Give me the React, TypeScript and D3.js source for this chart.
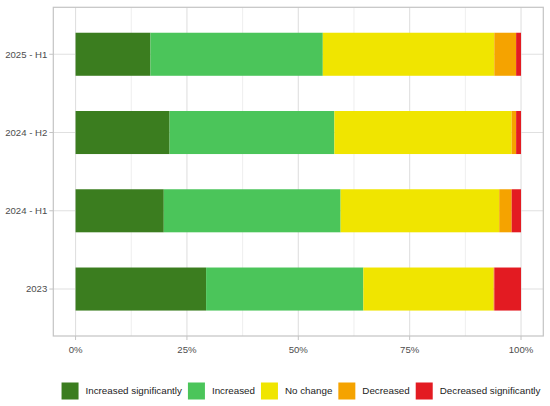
import * as d3 from "d3";

const categories = ["2025 - H1", "2024 - H2", "2024 - H1", "2023"];
const seriesNames = [
  "Increased significantly",
  "Increased",
  "No change",
  "Decreased",
  "Decreased significantly",
];
const seriesColors = ["#3b7d1f", "#4bc55a", "#f0e500", "#f5a300", "#e31b22"];

// shares per category, same order as categories
const increasedSig = [0.168, 0.211, 0.198, 0.293];
const increased = [0.387, 0.37, 0.397, 0.353];
const noChange = [0.385, 0.398, 0.356, 0.292];
const decreased = [0.049, 0.01, 0.028, 0.002];
const decreasedSig = [0.011, 0.011, 0.021, 0.06];

const xTicks = [0, 0.25, 0.5, 0.75, 1];
const xMinor = [0.125, 0.375, 0.625, 0.875];

const W = 550;
const H = 406;
const panel = { left: 53.3, right: 543.3, top: 7.3, bottom: 336 };
const FONT = "'Liberation Sans', Arial, sans-serif";

function textWidth(t: string, size: number) {
  const ctx = document.createElement("canvas").getContext("2d");
  if (!ctx) return t.length * size * 0.45;
  ctx.font = `${size}px 'Liberation Sans'`;
  return ctx.measureText(t).width;
}

export default function App() {
  const rows = categories.map((c, i) => ({
    cat: c,
    [seriesNames[0]]: increasedSig[i],
    [seriesNames[1]]: increased[i],
    [seriesNames[2]]: noChange[i],
    [seriesNames[3]]: decreased[i],
    [seriesNames[4]]: decreasedSig[i],
  }));

  const stacked = d3.stack<any>().keys(seriesNames)(rows);

  const x = d3
    .scaleLinear()
    .domain([-0.05, 1.05])
    .range([panel.left, panel.right]);

  const y = d3
    .scalePoint<string>()
    .domain(categories)
    .range([panel.top, panel.bottom])
    .padding(0.6);

  const barH = y.step() * 0.55;
  const color = d3.scaleOrdinal<string, string>().domain(seriesNames).range(seriesColors);

  // legend layout
  const legendSize = 9.8;
  const keyW = 17;
  const gapKeyText = 7;
  const gapItems = 6;
  const widths = seriesNames.map((s) => textWidth(s, legendSize));
  const total =
    widths.reduce((a, b) => a + b, 0) + seriesNames.length * (keyW + gapKeyText) + (seriesNames.length - 1) * gapItems;
  let lx = 301 - total / 2;
  const legendItems = seriesNames.map((s, i) => {
    const item = { name: s, x: lx };
    lx += keyW + gapKeyText + widths[i] + gapItems;
    return item;
  });
  const legendY = 391;

  return (
    <svg
      width={W}
      height={H}
      style={{ position: "absolute", left: 0, top: 0, background: "#fff" }}
      fontFamily={FONT}
    >
      <rect x={0} y={0} width={W} height={H} fill="#fff" />

      {/* grid */}
      {xMinor.map((t) => (
        <line key={"mn" + t} x1={x(t)} x2={x(t)} y1={panel.top} y2={panel.bottom} stroke="#e6e6e6" strokeWidth={0.7} />
      ))}
      {xTicks.map((t) => (
        <line key={"mj" + t} x1={x(t)} x2={x(t)} y1={panel.top} y2={panel.bottom} stroke="#e0e0e0" strokeWidth={1.1} />
      ))}
      {categories.map((c) => (
        <line key={"hg" + c} x1={panel.left} x2={panel.right} y1={y(c)} y2={y(c)} stroke="#e0e0e0" strokeWidth={1.1} />
      ))}

      {/* bars */}
      {stacked.map((layer) =>
        layer.map((d, i) => (
          <rect
            key={layer.key + i}
            x={x(d[0])}
            width={Math.max(0, x(d[1]) - x(d[0]))}
            y={(y(categories[i]) ?? 0) - barH / 2}
            height={barH}
            fill={color(layer.key)}
          />
        ))
      )}

      {/* panel border */}
      <rect
        x={panel.left}
        y={panel.top}
        width={panel.right - panel.left}
        height={panel.bottom - panel.top}
        fill="none"
        stroke="#c4c4c4"
        strokeWidth={1.2}
      />

      {/* y axis */}
      {categories.map((c) => (
        <g key={"yt" + c}>
          <line x1={panel.left - 4} x2={panel.left} y1={y(c)} y2={y(c)} stroke="#c4c4c4" strokeWidth={1} />
          <text x={panel.left - 6} y={y(c)} dy="0.35em" textAnchor="end" fontSize={9.6} fill="#4d4d4d">
            {c}
          </text>
        </g>
      ))}

      {/* x axis */}
      {xTicks.map((t) => (
        <g key={"xt" + t}>
          <line x1={x(t)} x2={x(t)} y1={panel.bottom} y2={panel.bottom + 4} stroke="#c4c4c4" strokeWidth={1} />
          <text x={x(t)} y={panel.bottom + 10} dy="0.7em" textAnchor="middle" fontSize={9.6} fill="#4d4d4d">
            {d3.format(".0%")(t)}
          </text>
        </g>
      ))}

      {/* legend */}
      {legendItems.map((it) => (
        <g key={"lg" + it.name}>
          <rect x={it.x} y={legendY - keyW / 2} width={keyW} height={keyW} fill={color(it.name)} />
          <text x={it.x + keyW + gapKeyText} y={legendY} dy="0.35em" fontSize={legendSize} fill="#222">
            {it.name}
          </text>
        </g>
      ))}
    </svg>
  );
}
